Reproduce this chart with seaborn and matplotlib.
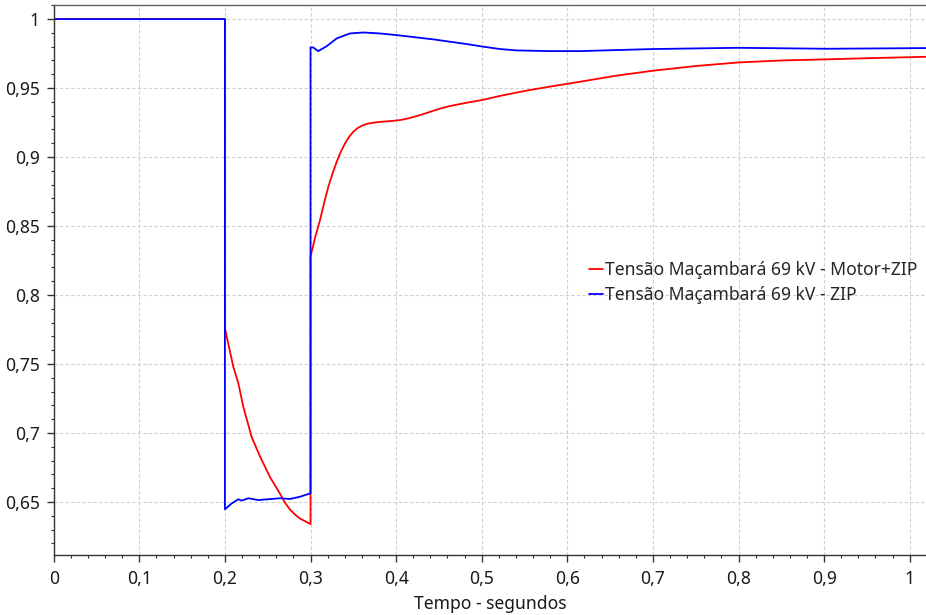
import numpy as np
import pandas as pd
import matplotlib
matplotlib.use("Agg")
import matplotlib.pyplot as plt
from matplotlib.ticker import MultipleLocator, FuncFormatter
import seaborn as sns

# Voltage at the 69 kV Maçambará bus (pu) versus time (s)
t_motor = [0.0, 0.2, 0.2, 0.2098, 0.2157, 0.2215, 0.2313, 0.241, 0.2527, 0.2644,
           0.270, 0.276, 0.282, 0.2877, 0.3, 0.3, 0.3055, 0.3111, 0.316, 0.3208,
           0.3257, 0.3306, 0.3355, 0.3403, 0.345, 0.350, 0.3555, 0.3617, 0.3675, 0.3734,
           0.381, 0.389, 0.397, 0.4046, 0.414, 0.424, 0.4335, 0.4435, 0.453, 0.463,
           0.4825, 0.5, 0.525, 0.556, 0.585, 0.615, 0.655, 0.7, 0.75, 0.8,
           0.85, 0.9, 0.96, 1.02]
v_motor = [1.0, 1.0, 0.776, 0.748, 0.736, 0.719, 0.697, 0.683, 0.668, 0.656,
           0.6497, 0.6445, 0.6408, 0.638, 0.634, 0.828, 0.842, 0.8543, 0.867, 0.8785,
           0.888, 0.8966, 0.904, 0.9099, 0.9146, 0.9184, 0.9212, 0.9232, 0.9243, 0.9249,
           0.9255, 0.9259, 0.9263, 0.9268, 0.928, 0.9297, 0.9315, 0.9336, 0.9354, 0.937,
           0.9394, 0.9413, 0.9448, 0.9486, 0.9516, 0.9546, 0.9588, 0.9626, 0.966, 0.9686,
           0.970, 0.9708, 0.9718, 0.9727]

t_zip = [0.0, 0.2, 0.2, 0.208, 0.2157, 0.2196, 0.2274, 0.239, 0.2644, 0.276,
         0.2877, 0.3, 0.3, 0.303, 0.309, 0.319, 0.3306, 0.346, 0.3617, 0.381,
         0.4007, 0.4435, 0.4825, 0.502, 0.5214, 0.541, 0.58, 0.615, 0.66, 0.7,
         0.8, 0.903, 1.02]
v_zip = [1.0, 1.0, 0.6447, 0.649, 0.652, 0.651, 0.6527, 0.6514, 0.6527, 0.6522,
         0.6538, 0.6563, 0.9795, 0.9795, 0.9768, 0.9804, 0.986, 0.9896, 0.9903, 0.9896,
         0.9884, 0.9853, 0.9819, 0.980, 0.9783, 0.9773, 0.9768, 0.9768, 0.9776, 0.9783,
         0.9792, 0.9785, 0.979]

label_motor = "Tensão Maçambará 69 kV - Motor+ZIP"
label_zip = "Tensão Maçambará 69 kV - ZIP"

df = pd.concat([
    pd.DataFrame({"t": t_motor, "v": v_motor, "serie": label_motor}),
    pd.DataFrame({"t": t_zip, "v": v_zip, "serie": label_zip}),
], ignore_index=True)

sns.set_theme(style="white")
plt.rcParams["font.family"] = ["Noto Sans", "DejaVu Sans"]

fig = plt.figure(figsize=(9.26, 6.15), dpi=100)
ax = fig.add_axes([0.058, 0.0976, 0.942, 0.894])

sns.lineplot(data=df, x="t", y="v", hue="serie",
             estimator=None, sort=False,
             palette={label_motor: "#ff0000", label_zip: "#0000ff"},
             hue_order=[label_motor, label_zip],
             linewidth=1.3, ax=ax)

ax.set_xlim(0, 1.019)
ax.set_ylim(0.6116, 1.0101)

ax.xaxis.set_major_locator(MultipleLocator(0.1))
ax.xaxis.set_minor_locator(MultipleLocator(0.02))
ax.yaxis.set_major_locator(MultipleLocator(0.05))
ax.yaxis.set_minor_locator(MultipleLocator(0.01))

comma = FuncFormatter(lambda x, pos: f"{round(x, 3):g}".replace(".", ","))
ax.xaxis.set_major_formatter(comma)
ax.yaxis.set_major_formatter(comma)

ax.tick_params(axis="both", which="major", direction="out", length=5, width=1,
               color="#333333", labelsize=12.6, labelcolor="#1a1a1a",
               bottom=True, left=True)
ax.tick_params(axis="x", which="major", pad=6)
ax.tick_params(axis="y", which="major", pad=5)
ax.tick_params(axis="both", which="minor", direction="out", length=2.5, width=0.8,
               color="#333333", bottom=True, left=True)

ax.grid(True, which="major", color="#cfcfcf", linestyle=(0, (3, 2)), linewidth=0.8)
ax.set_axisbelow(True)

for side in ["left", "bottom"]:
    ax.spines[side].set_color("#333333")
    ax.spines[side].set_linewidth(1.0)
ax.spines["top"].set_color("#606060")
ax.spines["top"].set_linewidth(1.0)
ax.spines["right"].set_visible(False)

ax.set_xlabel("Tempo - segundos", fontsize=12.6, color="#1a1a1a", labelpad=5)
ax.set_ylabel("")

leg = ax.legend(loc="center left", bbox_to_anchor=(0.614, 0.496), frameon=False,
                fontsize=12.6, handlelength=0.8, handletextpad=0.1,
                labelspacing=0.4, borderpad=0, borderaxespad=0)
for line in leg.get_lines():
    line.set_linewidth(1.3)

fig.savefig("out.png", dpi=100)
